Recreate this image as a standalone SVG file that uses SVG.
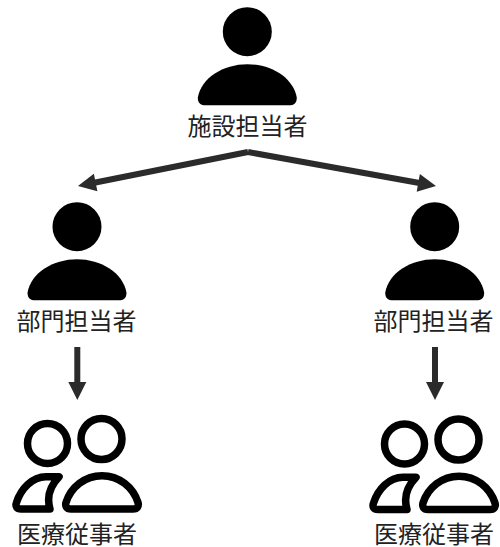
<svg xmlns="http://www.w3.org/2000/svg" width="500" height="547" viewBox="0 0 500 547">
<defs>
<marker id="ah" markerUnits="userSpaceOnUse" markerWidth="24" markerHeight="24" refX="4" refY="12" orient="auto" overflow="visible"><path d="M0 3L18 12L0 21Z" fill="#2b2b2b"/></marker>
<g id="person"><circle cx="0" cy="0" r="24.500" fill="#000"/><path d="M-49.500 66C-49.500 72-46 73.500-42 73.500H42C46 73.500 49.500 72 49.500 66C46 46 24 32.500 0 32.500C-24 32.500-46 46-49.500 66Z" fill="#000"/></g>
<g id="group" fill="none" stroke="#000" stroke-width="7.500" stroke-linejoin="round"><circle cx="47.500" cy="443.500" r="20"/><circle cx="101.500" cy="439" r="20.500"/><path d="M71 509C66.500 509 65 506 66 502.500C71 487 85 475.700 102 475.700C119 475.700 133 487 138 502.500C139 506 137.500 509 133 509Z"/><path d="M59 476.800H46C32 476.800 21 489 16.500 502.500C15 506.500 17 509 21 509H50C46.500 497 50 486 59 476.800Z"/></g>
</defs>
<style>text{font-family:"Noto Sans CJK JP","Noto Sans CJK SC",sans-serif;font-size:24px;fill:#222;text-anchor:middle}.c{fill:none;stroke:#2b2b2b;stroke-width:6;marker-end:url(#ah)}</style>
<g id="connectors">
<path class="c" d="M248 152L91.700 183.300"/><path class="c" d="M248 152L422.200 183.500"/><path class="c" d="M77.300 347V386"/><path class="c" d="M435 347V386"/>
</g>
<g id="facility"><use href="#person" x="247.300" y="31.700"/><text x="247.500" y="135">施設担当者</text></g>
<g id="dept-left"><use href="#person" x="77" y="226.700"/><text x="76.500" y="330">部門担当者</text></g>
<g id="dept-right"><use href="#person" x="434.700" y="226.700"/><text x="433.500" y="330">部門担当者</text></g>
<g id="staff-left"><use href="#group"/><text x="77" y="543">医療従事者</text></g>
<g id="staff-right"><use href="#group" x="357" y="0.500"/><text x="434" y="543">医療従事者</text></g>
</svg>
